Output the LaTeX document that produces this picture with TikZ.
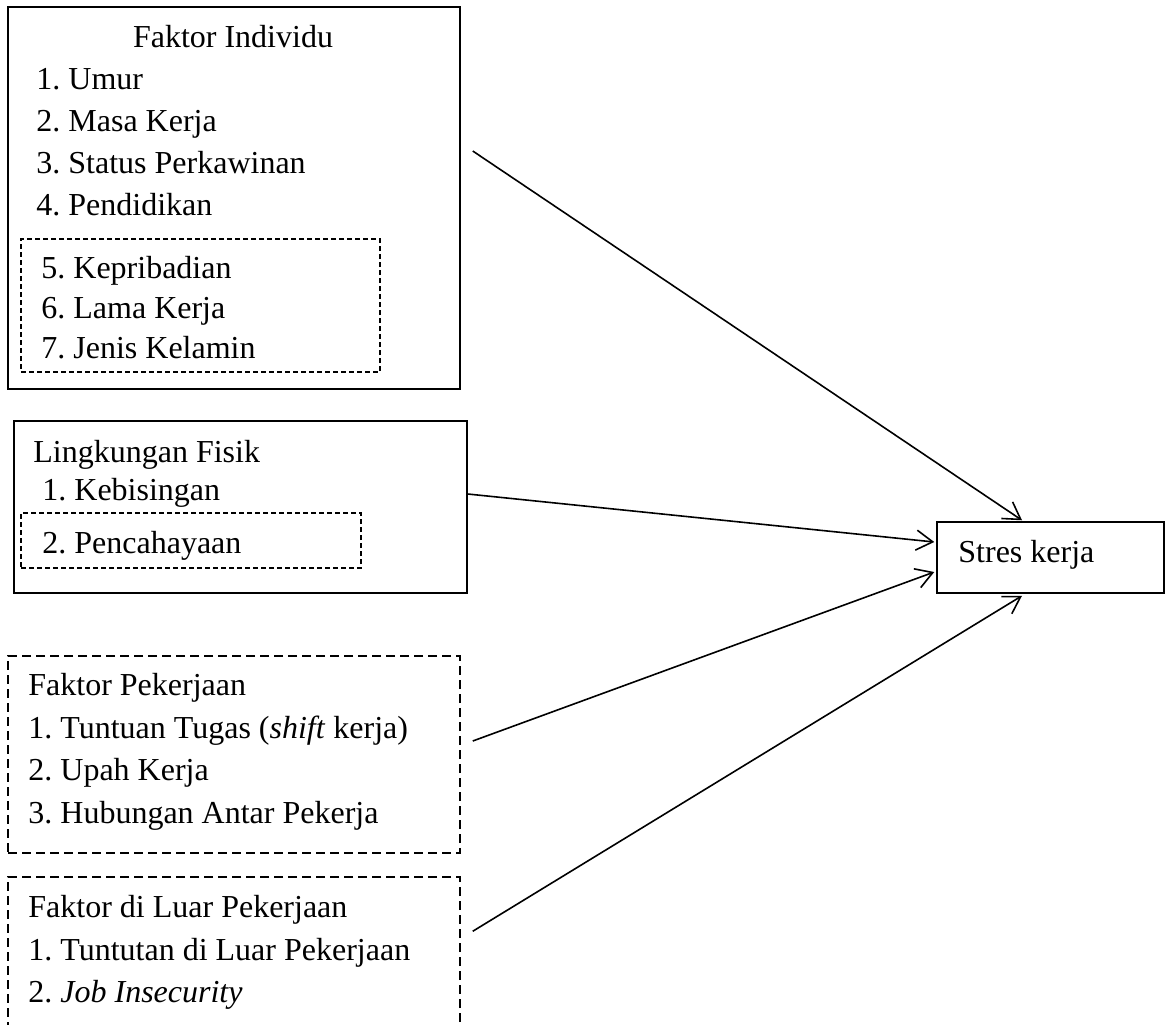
\documentclass[tikz,border=0pt]{standalone}
\usepackage{fontspec}
\setmainfont{Liberation Serif}
\usetikzlibrary{arrows.meta,fit}
\frenchspacing
\begin{document}
\begin{tikzpicture}[x=0.5pt,y=-0.5pt,
  box/.style={draw, line width=0.75pt, inner sep=0pt},
  ibox/.style={box, line width=0.6pt, dash pattern=on 2.5pt off 1.5pt},
  obox/.style={box, dash pattern=on 4.5pt off 2.5pt},
  txt/.style={anchor=base west, inner sep=0pt, font=\fontsize{16}{19}\selectfont\frenchspacing},
  arr/.style={line width=0.8pt, -{Straight Barb[length=8.25pt,width=10pt]}}]
\clip (0,0) rectangle (1166,1024);
\fill[white] (0,0) rectangle (1166,1024);

% Faktor Individu
\node[box, fit={(8,7)(460,389)}] (b1) {};
\node[ibox, fit={(21,239)(380,372)}] (b1d) {};
\node[txt, anchor=base] (t1) at (233,47) {Faktor Individu};
\node[txt] (t1a) at (36,89) {1. Umur};
\node[txt] (t1b) at (36,131) {2. Masa Kerja};
\node[txt] (t1c) at (36,173) {3. Status Perkawinan};
\node[txt] (t1d) at (36,215) {4. Pendidikan};
\node[txt] (t1e) at (41,278) {5. Kepribadian};
\node[txt] (t1f) at (41,318) {6. Lama Kerja};
\node[txt] (t1g) at (41,358) {7. Jenis Kelamin};

% Lingkungan Fisik
\node[box, fit={(14,421)(467,593)}] (b2) {};
\node[ibox, fit={(21,513)(361,568)}] (b2d) {};
\node[txt] (t2) at (33,462) {Lingkungan Fisik};
\node[txt] (t2a) at (42,500) {1. Kebisingan};
\node[txt] (t2b) at (42,553) {2. Pencahayaan};

% Faktor Pekerjaan
\node[obox, fit={(8,656)(460,853)}] (b3) {};
\node[txt] (t3) at (28,695) {Faktor Pekerjaan};
\node[txt] (t3a) at (28,738) {1. Tuntuan Tugas (\textit{shift} kerja)};
\node[txt] (t3b) at (28,780) {2. Upah Kerja};
\node[txt] (t3c) at (28,823) {3. Hubungan Antar Pekerja};

% Faktor di Luar Pekerjaan
\node[obox, fit={(8,877)(460,1060)}] (b4) {};
\node[txt] (t4) at (28,917) {Faktor di Luar Pekerjaan};
\node[txt] (t4a) at (28,960) {1. Tuntutan di Luar Pekerjaan};
\node[txt] (t4b) at (28,1002) {2. \textit{Job Insecurity}};

% Stres kerja
\node[box, fit={(937,522)(1164,593)}] (sk) {};
\node[txt] (tsk) at (958,562) {Stres kerja};

% connectors
\coordinate (s1) at ([xshift=6pt,yshift=23.5pt]b1.east);
\coordinate (s2) at ([yshift=6.5pt]b2.east);
\coordinate (s3) at ([xshift=6pt,yshift=6.75pt]b3.east);
\coordinate (s4) at ([xshift=6pt,yshift=-27.5pt]b4.north east);
\draw[arr] (s1) -- ([xshift=-14.25pt,yshift=0.5pt]sk.north);
\draw[arr] (s2) -- ([xshift=-1pt,yshift=7.75pt]sk.west);
\draw[arr] (s3) -- ([xshift=-1pt,yshift=-7.25pt]sk.west);
\draw[arr] (s4) -- ([xshift=-14.25pt,yshift=-1pt]sk.south);
\end{tikzpicture}
\end{document}
